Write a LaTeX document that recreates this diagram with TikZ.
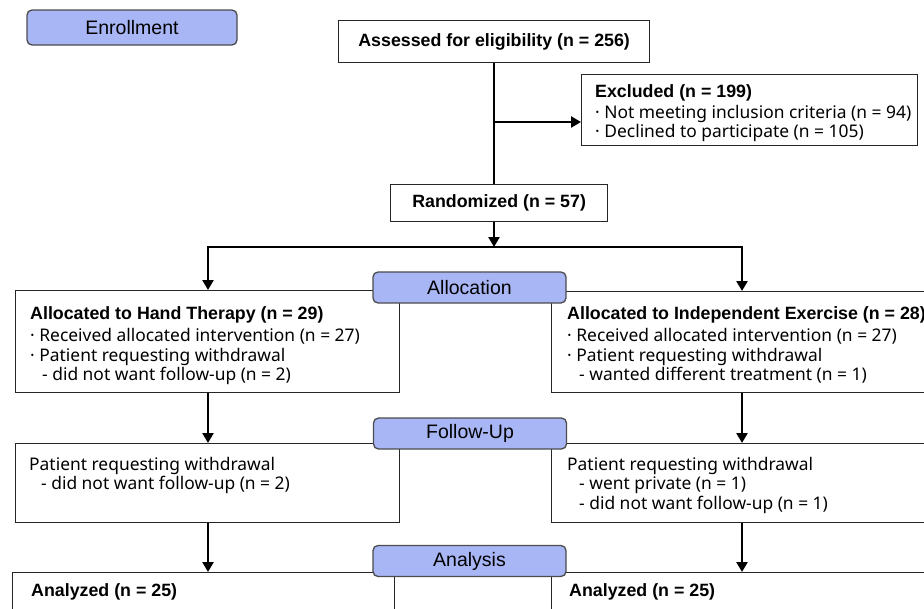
\documentclass[tikz,border=0pt]{standalone}
\usepackage{fontspec}
\setmainfont{Noto Sans}
\newfontfamily\headfont{Liberation Sans}
\usetikzlibrary{arrows.meta,positioning}
\definecolor{stageblue}{RGB}{168,182,245}
\newcommand{\hd}[1]{{\headfont\bfseries\fontsize{17.8}{20}\selectfont #1}}

\begin{document}
\begin{tikzpicture}[x=1pt,y=-1pt,
    box/.style={draw=black!85, line width=1.3pt, anchor=north west, inner sep=0pt},
    head/.style={font=\headfont\bfseries\fontsize{17.8}{20}\selectfont},
    body/.style={align=left, anchor=north west, inner sep=0pt, font=\fontsize{17.4}{19.5}\selectfont},
    stage/.style={draw=black!70, line width=1.3pt, fill=stageblue, rounded corners=5pt,
        minimum width=193pt, minimum height=31pt, inner sep=0pt, font=\headfont\fontsize{19.5}{22}\selectfont},
    flow/.style={line width=2.7pt},
    arr/.style={flow, -{Triangle[length=10pt,width=11pt]}}]
    \clip (0,0) rectangle (924,608);
    % enrollment
    \node[box, head, minimum width=311pt, minimum height=42pt] (assess) at (338,20) {Assessed for eligibility (n = 256)};
    \node[box, minimum width=336pt, minimum height=71pt] (excl) at (581,74) {};
    \node[body] (excltxt) at ([shift={(14pt,-10pt)}]excl.north west)
        {\hd{Excluded (n = 199)}\\[1.5pt]
         ·\ Not meeting inclusion criteria (n = 94)\\
         ·\ Declined to participate (n = 105)};
    \node[box, head, minimum width=217pt, minimum height=37pt] (rand) at (390,184) {Randomized (n = 57)};
    % allocation
    \node[box, minimum width=384pt, minimum height=102pt] (allocL) at (15,290) {};
    \node[body] (allocLtxt) at ([shift={(15pt,-16pt)}]allocL.north west)
        {\hd{Allocated to Hand Therapy (n = 29)}\\[3pt]
         ·\ Received allocated intervention (n = 27)\\
         ·\ Patient requesting withdrawal\\
         \hspace*{12pt}- did not want follow-up (n = 2)};
    \node[box, minimum width=394pt, minimum height=101pt] (allocR) at (551,291) {};
    \node[body] (allocRtxt) at ([shift={(16pt,-15pt)}]allocR.north west)
        {\hd{Allocated to Independent Exercise (n = 28)}\\[3pt]
         ·\ Received allocated intervention (n = 27)\\
         ·\ Patient requesting withdrawal\\
         \hspace*{12pt}- wanted different treatment (n = 1)};
    % follow-up
    \node[box, minimum width=384pt, minimum height=79pt] (fuL) at (15,443) {};
    \node[body] (fuLtxt) at ([shift={(14pt,-14pt)}]fuL.north west)
        {Patient requesting withdrawal\\
         \hspace*{12pt}- did not want follow-up (n = 2)};
    \node[box, minimum width=394pt, minimum height=79pt] (fuR) at (551,443) {};
    \node[body] (fuRtxt) at ([shift={(16pt,-14pt)}]fuR.north west)
        {Patient requesting withdrawal\\
         \hspace*{12pt}- went private (n = 1)\\
         \hspace*{12pt}- did not want follow-up (n = 1)};
    % analysis
    \node[box, minimum width=382pt, minimum height=60pt] (anL) at (12,572) {};
    \node[body, head] (anLtxt) at ([shift={(19pt,-11pt)}]anL.north west) {Analyzed (n = 25)};
    \node[box, minimum width=394pt, minimum height=60pt] (anR) at (551,572) {};
    \node[body, head] (anRtxt) at ([shift={(18pt,-11pt)}]anR.north west) {Analyzed (n = 25)};

    % connectors
    \coordinate (exclTap) at (494,122);
    \coordinate (split) at (494,247);
    \coordinate (colL) at (208,247);
    \coordinate (colR) at (742,247);
    \draw[flow] (split |- assess.south) -- (split |- rand.north);
    \draw[arr] (exclTap) -- (exclTap -| excl.west);
    \draw[arr] (split |- rand.south) -- (split);
    \draw[arr] (split) -| (colL |- allocL.north);
    \draw[arr] (split) -| (colR |- allocR.north);
    \draw[arr] (colL |- allocL.south) -- (colL |- fuL.north);
    \draw[arr] (colR |- allocR.south) -- (colR |- fuR.north);
    \draw[arr] (colL |- fuL.south) -- (colL |- anL.north);
    \draw[arr] (colR |- fuR.south) -- (colR |- anR.north);

    % stage labels
    \node[stage, minimum width=210pt, minimum height=35pt] (enroll) at (132,27.5) {Enrollment};
    \node[stage] (allocation) at (469.5,287.5) {Allocation};
    \node[stage] (followup) at (470,433.5) {Follow-Up};
    \node[stage] (analysis) at (469.5,561) {Analysis};
\end{tikzpicture}
\end{document}
